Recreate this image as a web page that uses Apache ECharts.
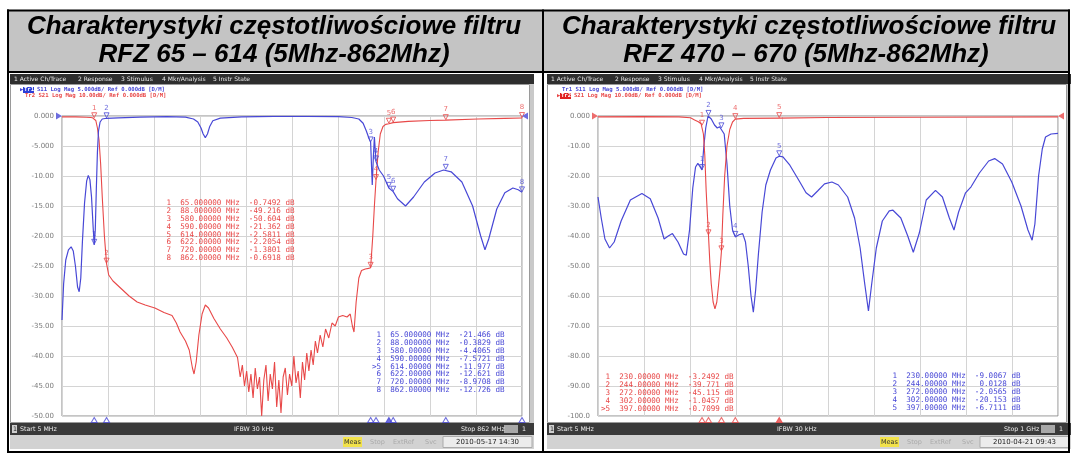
<!DOCTYPE html>
<html><head><meta charset="utf-8">
<script src="https://cdn.jsdelivr.net/npm/echarts@6/dist/echarts.min.js"></script>
<style>html,body{margin:0;padding:0;background:#fff;}#c{width:1072px;height:453px;}</style>
</head><body><div id="c"></div><script>
// ---------------- DATA ----------------
const titleLine1 = 'Charakterystyki częstotliwościowe filtru';
const leftTitle2 = 'RFZ 65 – 614 (5Mhz-862Mhz)';
const rightTitle2 = 'RFZ 470 – 670 (5Mhz-862Mhz)';

const leftTickLabels = ['0.000','-5.000','-10.00','-15.00','-20.00','-25.00','-30.00','-35.00','-40.00','-45.00','-50.00'];
const rightTickLabels = ['0.000','-10.00','-20.00','-30.00','-40.00','-50.00','-60.00','-70.00','-80.00','-90.00','-100.0'];

// Left panel: S11 (blue, 5 dB/div) and S21 (red, 10 dB/div), 5..862 MHz
const leftS11 = [[5,-34],[8,-28],[12,-24],[17,-22.3],[22,-21.8],[26,-22.5],[30,-25],[34,-28.5],[37,-29.3],[40,-27],[43,-21],[47,-14.5],[51,-10.8],[54,-9.9],[57,-10.6],[60,-13.5],[63,-18.5],[65,-21.5],[67,-19],[69,-12],[71,-6],[73,-2.5],[76,-1.0],[80,-0.5],[88,-0.38],[110,-0.3],[150,-0.2],[200,-0.1],[235,-0.2],[250,-0.5],[258,-1.0],[264,-2.0],[268,-3.0],[272,-3.6],[276,-3.0],[280,-1.8],[286,-0.8],[300,-0.35],[340,-0.15],[400,-0.05],[460,-0.05],[520,-0.1],[545,-0.25],[558,-0.5],[566,-1.2],[572,-2.5],[576,-3.5],[580,-4.4],[583,-11.5],[585,-7],[587,-3.5],[590,-7.6],[596,-9],[604,-10],[614,-12],[622,-12.6],[630,-13.8],[645,-15],[660,-13.5],[680,-11],[700,-9.5],[716,-9],[730,-9.3],[750,-11],[770,-15],[785,-20],[793,-22.3],[800,-20.5],[815,-15.5],[830,-12.8],[845,-12],[855,-12.3],[862,-12.7]];
const leftS21 = [[5,-0.3],[30,-0.3],[50,-0.4],[58,-0.5],[62,-0.6],[65,-0.75],[68,-1.5],[71,-4],[74,-8],[77,-16],[80,-27],[84,-40],[88,-49.2],[92,-53],[100,-55],[115,-57.5],[130,-60],[145,-62],[160,-63],[178,-64],[195,-65.5],[210,-66.5],[218,-69],[225,-72],[235,-75],[242,-78],[248,-84],[251,-86],[255,-82],[260,-73],[266,-66],[272,-63],[278,-64],[288,-67.5],[300,-71],[312,-74],[322,-77],[332,-80.5],[337,-87],[341,-83],[345,-90],[349,-85],[353,-92],[357,-86],[361,-94],[365,-84],[369,-91],[373,-87],[377,-100],[381,-88],[385,-83],[389,-95],[393,-86],[397,-91],[401,-82],[405,-97],[409,-88],[413,-99],[417,-87],[421,-84],[425,-93],[429,-86],[433,-90],[437,-80],[441,-89],[445,-85],[449,-94],[453,-82],[457,-88],[461,-79],[465,-85],[469,-78],[473,-83],[477,-75],[481,-79],[486,-73],[491,-77],[496,-71],[502,-74],[508,-69],[514,-70],[520,-67],[528,-66.5],[536,-67],[542,-66],[546,-70],[549,-72],[553,-62],[558,-54],[563,-51.5],[570,-51],[576,-50.8],[580,-50.6],[584,-40],[587,-30],[590,-21.4],[594,-12],[598,-6],[603,-3.5],[608,-2.8],[614,-2.6],[622,-2.2],[650,-1.8],[690,-1.5],[720,-1.38],[780,-1.0],[830,-0.8],[862,-0.69]];

// Right panel: S11 (blue, 5 dB/div) and S21 (red, 10 dB/div), 5..1000 MHz
const rightS11 = [[5,-13.5],[12,-17],[20,-20.5],[30,-22],[40,-21],[55,-17.5],[75,-14],[100,-12.9],[118,-13.8],[135,-17],[148,-20.5],[157,-20],[166,-19.6],[178,-21],[190,-23],[196,-23.2],[203,-19],[210,-12],[216,-8.5],[221,-7.9],[226,-8.5],[230,-9],[234,-5],[238,-2],[243,0],[250,-0.5],[257,-1.5],[263,-2],[268,-1.8],[272,-2.06],[278,-3],[284,-8],[290,-15],[296,-19],[302,-20.15],[310,-19.8],[318,-19.6],[324,-21],[330,-25],[336,-30],[341,-32.7],[346,-29],[352,-23],[360,-16],[368,-11.5],[378,-9],[390,-7],[397,-6.7],[405,-6.8],[420,-8.2],[440,-10.8],[455,-12.8],[467,-13.5],[480,-12.5],[495,-11.3],[511,-11],[525,-11.5],[545,-13.5],[560,-17],[572,-22],[582,-28],[590,-32.5],[597,-28],[607,-22],[620,-17.5],[635,-15.8],[643,-15.7],[660,-17],[675,-20],[687,-22.7],[700,-19.5],[715,-14],[735,-12.4],[750,-13.5],[765,-17],[775,-19],[785,-16],[800,-12.8],[812,-11.8],[830,-9.5],[850,-7.5],[863,-7.1],[880,-8],[900,-11],[920,-15],[935,-19],[944,-20.7],[950,-18],[958,-10],[966,-5.5],[973,-3.5],[985,-3],[1000,-2.9]];
const rightS21 = [[5,-0.3],[100,-0.2],[180,-0.3],[205,-0.6],[214,-1.3],[222,-1.9],[228,-2.6],[230,-3.25],[233,-6],[236,-13],[239,-25],[242,-34],[244,-39.8],[247,-49],[250,-56],[254,-62],[258,-64.3],[262,-62],[266,-56],[269,-51],[272,-45.1],[275,-33],[279,-20],[284,-10],[290,-4.5],[296,-2],[302,-1.05],[320,-0.8],[397,-0.71],[500,-0.5],[700,-0.4],[1000,-0.3]];

// Marker tables
const leftMkFreq  = ['65.000000','88.000000','580.00000','590.00000','614.00000','622.00000','720.00000','862.00000'];
const leftS21Mk   = ['-0.7492','-49.216','-50.604','-21.362','-2.5811','-2.2054','-1.3801','-0.6918'];
const leftS11Mk   = ['-21.466','-0.3829','-4.4065','-7.5721','-11.977','-12.621','-8.9708','-12.726'];
const rightMkFreq = ['230.00000','244.00000','272.00000','302.00000','397.00000'];
const rightS21Mk  = ['-3.2492','-39.771','-45.115','-1.0457','-0.7099'];
const rightS11Mk  = ['-9.0067','0.0128','-2.0565','-20.153','-6.7111'];

// ---------------- STYLE ----------------
const BLUE = '#4848d6', RED = '#e84848';
const UI = '"DejaVu Sans", sans-serif';
const MONO = '"DejaVu Sans Mono", monospace';

function rect(x,y,w,h,fill,z,stroke){ return {type:'rect', silent:true, z:z==null?-5:z, shape:{x:x,y:y,width:w,height:h}, style:{fill:fill, stroke:stroke||null, lineWidth:1}}; }
function txt(x,y,s,font,color,align,z){ return {type:'text', silent:true, z:z==null?50:z, x:x, y:y, style:{text:s, font:font, fill:color, textAlign:align||'left', textVerticalAlign:'middle'}}; }

function tableRows(freqs, vals, active){
  return freqs.map((f,i)=>{
    const n = (active===i?'>':' ') + (i+1);
    return n + ' ' + f.padStart(10) + ' MHz ' + vals[i].padStart(8) + ' dB';
  }).join('\n');
}
function tableText(x,y,s,color){ return {type:'text', silent:true, z:50, x:x, y:y, style:{text:s, font:'7.6px '+MONO, fill:color, textAlign:'left', textVerticalAlign:'top', lineHeight:7.9}}; }

const G = [];
// table frame + header
G.push(rect(9,11,1059,60,'#c4c4c4',-10));
G.push(rect(7,9.5,1063,2,'#000',60));
G.push(rect(7,451,1063,2,'#000',60));
G.push(rect(7,9.5,2,443.5,'#000',60));
G.push(rect(1068,9.5,2,443.5,'#000',60));
G.push(rect(542,9.5,2,443.5,'#000',60));
G.push(rect(7,71,1063,2,'#000',60));
const TF = 'italic bold 26px "Liberation Sans", Arial, sans-serif';
G.push(txt(274,26.5,titleLine1,TF,'#000','center'));
G.push(txt(274,54.5,leftTitle2,TF,'#000','center'));
G.push(txt(809,26.5,titleLine1,TF,'#000','center'));
G.push(txt(806,54.5,rightTitle2,TF,'#000','center'));

function panel(ox, opt){
  const L = 10+ox;
  G.push(rect(L,74,524,10,'#2e2e2e',-8));
  G.push(rect(L,84,524,339,'#ffffff',-8));
  G.push(rect(L+0.5,84.5,519,338,'rgba(0,0,0,0)',-7,'#9a9a9a'));
  G.push(rect(L+520,84,4,339,'#c9c9c9',-7));
  G.push(rect(L,423,524,12,'#3a3a3a',-8));
  G.push(rect(L,435,524,14,'#d2d2d2',-8));
  // menu
  const mf = '6px '+UI;
  [['1 Active Ch/Trace',4],['2 Response',68],['3 Stimulus',111],['4 Mkr/Analysis',152],['5 Instr State',203]].forEach(m=>G.push(txt(L+m[1],79,m[0],mf,'#e8e8e8')));
  // trace info lines
  const tf = 'bold 5.6px '+MONO;
  if(opt.active==='S11'){
    G.push(txt(L+10,90,'▶',tf,BLUE));
    G.push(rect(L+13,87,11,6,'#2d3fd8',40));
    G.push(txt(L+14,90,'Tr1',tf,'#fff'));
    G.push(txt(L+27,90,'S11 Log Mag 5.000dB/ Ref 0.000dB [D/M]',tf,BLUE));
    G.push(txt(L+15,96,'Tr2 S21 Log Mag 10.00dB/ Ref 0.000dB [D/M]',tf,RED));
  } else {
    G.push(txt(L+15,90,'Tr1 S11 Log Mag 5.000dB/ Ref 0.000dB [D/M]',tf,BLUE));
    G.push(txt(L+10,96,'▶',tf,RED));
    G.push(rect(L+13,93,11,6,'#e02020',40));
    G.push(txt(L+14,96,'Tr2',tf,'#fff'));
    G.push(txt(L+27,96,'S21 Log Mag 10.00dB/ Ref 0.000dB [D/M]',tf,RED));
  }
  // status bar
  const sf = '6.3px '+UI;
  G.push(rect(L+2,425,5,8,'#cfcfcf',40));
  G.push(txt(L+3,429,'1',sf,'#222'));
  G.push(txt(L+10,429,'Start 5 MHz',sf,'#eee'));
  G.push(txt(L+opt.ifbwX,429,'IFBW 30 kHz',sf,'#eee'));
  G.push(txt(L+opt.stopX,429,opt.stop,sf,'#eee'));
  G.push(rect(L+494,425,14,8,'#a8a8a8',40));
  G.push(txt(L+512,429,'1',sf,'#eee'));
  // bottom bar
  const bf = '6.5px '+UI;
  G.push(rect(L+333,437,19,10,'#f2e24a',40));
  G.push(txt(L+342.5,442,'Meas',bf,'#333','center'));
  G.push(txt(L+360,442,'Stop',bf,'#aaa'));
  G.push(txt(L+383,442,'ExtRef',bf,'#aaa'));
  G.push(txt(L+415,442,'Svc',bf,'#aaa'));
  G.push(rect(L+433,436.5,89,11,'#ececec',40,'#aaa'));
  G.push(txt(L+477.5,442,opt.date,'7px '+UI,'#222','center'));
}
panel(0,{active:'S11', ifbwX:224, stopX:451, stop:'Stop 862 MHz', date:'2010-05-17 14:30'});
panel(537,{active:'S21', ifbwX:230, stopX:457, stop:'Stop 1 GHz', date:'2010-04-21 09:43'});

G.push(tableText(162,199,tableRows(leftMkFreq,leftS21Mk,-1),RED));
G.push(tableText(372,331,tableRows(leftMkFreq,leftS11Mk,4),BLUE));
G.push(tableText(601,373,tableRows(rightMkFreq,rightS21Mk,4),RED));
G.push(tableText(888,372,tableRows(rightMkFreq,rightS11Mk,-1),BLUE));

// ---------------- CHART ----------------
function mk(freqs, vals){ return freqs.map((f,i)=>[parseFloat(f), parseFloat(vals[i]), i+1]); }
function markerSeries(xi, yi, data, color){
  return {type:'scatter', xAxisIndex:xi, yAxisIndex:yi, data:data, symbol:'triangle', symbolRotate:180, symbolSize:[5,5], symbolOffset:[0,-3], clip:false, z:6,
    itemStyle:{color:'rgba(255,255,255,0)', borderColor:color, borderWidth:1},
    label:{show:true, position:'top', distance:1, formatter:p=>String(p.data[2]), color:color, fontSize:7, fontFamily:'DejaVu Sans'}, silent:true};
}
function bottomTri(xi, yi, freqs, ymin, color, active){
  return {type:'scatter', xAxisIndex:xi, yAxisIndex:yi, clip:false, symbol:'triangle', symbolSize:[6,5], symbolOffset:[0,4], silent:true, z:6,
    data:freqs.map((f,i)=>({value:[parseFloat(f),ymin], itemStyle:{color: i===active?color:'rgba(255,255,255,0)', borderColor:color, borderWidth:1}}))};
}
function refTri(xi, yi, x0, x1, color){
  return {type:'scatter', xAxisIndex:xi, yAxisIndex:yi, clip:false, symbol:'triangle', symbolSize:[7,6], silent:true, z:7, itemStyle:{color:color},
    data:[{value:[x0,0], symbolRotate:-90, symbolOffset:[-3,0]},{value:[x1,0], symbolRotate:90, symbolOffset:[3,0]}]};
}
const split = {show:true, lineStyle:{color:'#d4d4d4', width:1}};
const axLab = {color:'#7a7a7a', fontSize:7, fontFamily:'DejaVu Sans', margin:8};

const option = {
  animation:false,
  backgroundColor:'#ffffff',
  graphic:{elements:G},
  grid:[
    {left:62, top:116, width:460, height:300, show:true, backgroundColor:'#fff', borderColor:'#8a8a8a', borderWidth:1},
    {left:598, top:116, width:460, height:300, show:true, backgroundColor:'#fff', borderColor:'#8a8a8a', borderWidth:1}
  ],
  xAxis:[
    {gridIndex:0, type:'value', min:5, max:862, show:false},
    {gridIndex:0, type:'value', min:0, max:10, interval:1, axisLine:{show:false}, axisTick:{show:false}, axisLabel:{show:false}, splitLine:split},
    {gridIndex:1, type:'value', min:5, max:1000, show:false},
    {gridIndex:1, type:'value', min:0, max:10, interval:1, axisLine:{show:false}, axisTick:{show:false}, axisLabel:{show:false}, splitLine:split}
  ],
  yAxis:[
    {gridIndex:0, type:'value', min:-50, max:0, interval:5, axisLine:{show:false}, axisTick:{show:false}, splitLine:split,
      axisLabel:Object.assign({formatter:v=>leftTickLabels[Math.round(-v/5)]}, axLab)},
    {gridIndex:0, type:'value', min:-100, max:0, show:false},
    {gridIndex:1, type:'value', min:-100, max:0, interval:10, axisLine:{show:false}, axisTick:{show:false}, splitLine:split,
      axisLabel:Object.assign({formatter:v=>rightTickLabels[Math.round(-v/10)]}, axLab)},
    {gridIndex:1, type:'value', min:-50, max:0, show:false}
  ],
  series:[
    {type:'line', xAxisIndex:0, yAxisIndex:1, data:leftS21, showSymbol:false, lineStyle:{color:RED, width:1.1}, silent:true, z:3},
    {type:'line', xAxisIndex:0, yAxisIndex:0, data:leftS11, showSymbol:false, lineStyle:{color:BLUE, width:1.2}, silent:true, z:4},
    {type:'line', xAxisIndex:2, yAxisIndex:3, data:rightS11, showSymbol:false, lineStyle:{color:BLUE, width:1.2}, silent:true, z:3},
    {type:'line', xAxisIndex:2, yAxisIndex:2, data:rightS21, showSymbol:false, lineStyle:{color:RED, width:1.1}, silent:true, z:4},
    markerSeries(0,1,mk(leftMkFreq,leftS21Mk),RED),
    markerSeries(0,0,mk(leftMkFreq,leftS11Mk),BLUE),
    markerSeries(2,2,mk(rightMkFreq,rightS21Mk),RED),
    markerSeries(2,3,mk(rightMkFreq,rightS11Mk),BLUE),
    bottomTri(0,0,leftMkFreq,-50,BLUE,4),
    bottomTri(2,2,rightMkFreq,-100,RED,4),
    refTri(0,0,5,862,BLUE),
    refTri(2,2,5,1000,RED)
  ]
};
const chart = echarts.init(document.getElementById('c'));
chart.setOption(option);
</script></body></html>
